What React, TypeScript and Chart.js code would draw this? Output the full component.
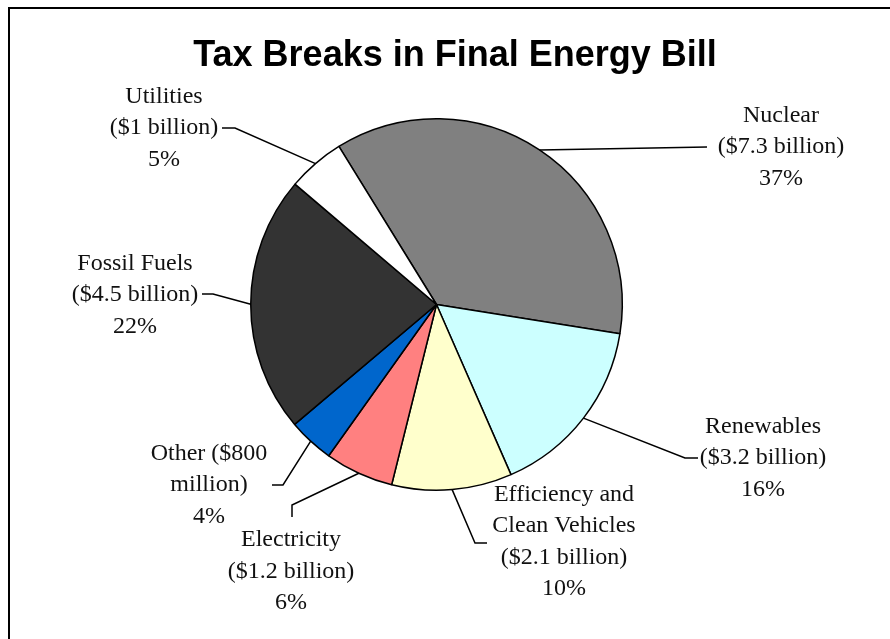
import React, { useEffect, useRef } from "react";
import { Chart, registerables } from "chart.js";

Chart.register(...registerables);

const TITLE = "Tax Breaks in Final Energy Bill";
const categories = ["Nuclear", "Renewables", "Efficiency and Clean Vehicles", "Electricity", "Other", "Fossil Fuels", "Utilities"];
const valuesBillion = [7.3, 3.2, 2.1, 1.2, 0.8, 4.5, 1.0];
const labelLines = [
  ["Nuclear", "($7.3 billion)", "37%"],
  ["Renewables", "($3.2 billion)", "16%"],
  ["Efficiency and", "Clean Vehicles", "($2.1 billion)", "10%"],
  ["Electricity", "($1.2 billion)", "6%"],
  ["Other ($800", "million)", "4%"],
  ["Fossil Fuels", "($4.5 billion)", "22%"],
  ["Utilities", "($1 billion)", "5%"],
];
const sliceColors = ["#808080", "#CCFFFF", "#FFFFCC", "#FF8080", "#0066CC", "#333333", "#FFFFFF"];

// label layout: text block centre x, vertical middle, leader elbow and end
const labelLayout = [
  { cx: 781, cy: 147, elbow: [652, 148], end: [707, 147] },
  { cx: 763, cy: 458, elbow: [685, 458], end: [698, 458] },
  { cx: 564, cy: 541.5, elbow: [475, 543], end: [487, 543] },
  { cx: 291, cy: 571.5, elbow: [292, 505], end: [292, 517] },
  { cx: 209, cy: 485, elbow: [283, 485], end: [272, 485] },
  { cx: 135, cy: 295, elbow: [213, 294], end: [202, 294] },
  { cx: 164, cy: 128, elbow: [235, 128], end: [222, 128] },
];
const LINE_H = 31.5;

const decorPlugin = {
  id: "decor",
  beforeDraw(chart: any) {
    const { ctx, width, height } = chart;
    ctx.save();
    ctx.fillStyle = "#ffffff";
    ctx.fillRect(0, 0, width, height);
    ctx.strokeStyle = "#000000";
    ctx.lineWidth = 2;
    ctx.beginPath();
    ctx.moveTo(9, height + 10);
    ctx.lineTo(9, 8);
    ctx.lineTo(width + 10, 8);
    ctx.stroke();
    ctx.fillStyle = "#000000";
    ctx.font = "bold 36px 'Liberation Sans', Arial, sans-serif";
    ctx.textAlign = "center";
    ctx.textBaseline = "alphabetic";
    ctx.fillText(TITLE, 455, 65.5);
    ctx.restore();
  },
  afterDatasetsDraw(chart: any) {
    const { ctx } = chart;
    const meta = chart.getDatasetMeta(0);
    ctx.save();
    meta.data.forEach((el: any, i: number) => {
      const lay = labelLayout[i];
      const a = (el.startAngle + el.endAngle) / 2;
      const sx = el.x + Math.cos(a) * el.outerRadius;
      const sy = el.y + Math.sin(a) * el.outerRadius;
      ctx.strokeStyle = "#000000";
      ctx.lineWidth = 1.5;
      ctx.beginPath();
      ctx.moveTo(sx, sy);
      ctx.lineTo(lay.elbow[0], lay.elbow[1]);
      ctx.lineTo(lay.end[0], lay.end[1]);
      ctx.stroke();
      const lines = labelLines[i];
      ctx.fillStyle = "#111111";
      ctx.font = "24px 'Liberation Serif', 'Times New Roman', serif";
      ctx.textAlign = "center";
      ctx.textBaseline = "middle";
      const top = lay.cy - ((lines.length - 1) * LINE_H) / 2;
      lines.forEach((t, k) => ctx.fillText(t, lay.cx, top + k * LINE_H));
    });
    ctx.restore();
  },
};

export default function App() {
  const ref = useRef<HTMLCanvasElement>(null);
  useEffect(() => {
    if (!ref.current) return;
    const chart = new Chart(ref.current, {
      type: "pie",
      data: {
        labels: categories,
        datasets: [
          {
            data: valuesBillion,
            backgroundColor: sliceColors,
            borderColor: "#000000",
            borderWidth: 1.5,
          },
        ],
      },
      options: {
        responsive: false,
        animation: false,
        rotation: -31.7,
        layout: { padding: { left: 250, right: 267, top: 118, bottom: 148 } },
        plugins: {
          legend: { display: false },
          title: { display: false },
          tooltip: { enabled: false },
        },
      },
      plugins: [decorPlugin],
    });
    return () => chart.destroy();
  }, []);
  return (
    <div style={{ position: "absolute", left: 0, top: 0, width: 890, height: 639, overflow: "hidden" }}>
      <canvas ref={ref} width={890} height={639} style={{ display: "block" }} />
    </div>
  );
}
